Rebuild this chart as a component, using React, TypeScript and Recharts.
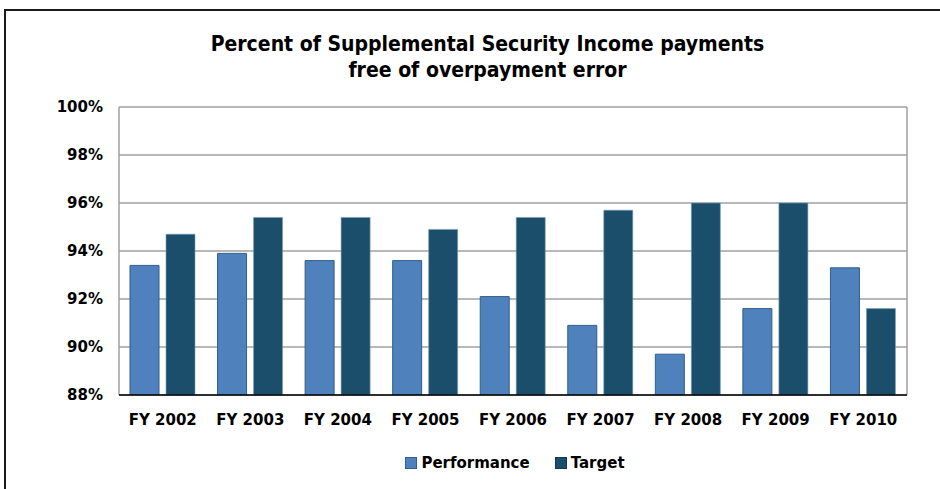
import React from 'react';
import { BarChart, Bar, XAxis, YAxis, CartesianGrid, Legend } from 'recharts';

const years = ['FY 2002', 'FY 2003', 'FY 2004', 'FY 2005', 'FY 2006', 'FY 2007', 'FY 2008', 'FY 2009', 'FY 2010'];
const performance = [93.4, 93.9, 93.6, 93.6, 92.1, 90.9, 89.7, 91.6, 93.3];
const target = [94.7, 95.4, 95.4, 94.9, 95.4, 95.7, 96.0, 96.0, 91.6];
const yTicks = [88, 90, 92, 94, 96, 98, 100];

const PERF_COLOR = '#4f81bd';
const TARGET_COLOR = '#1a4e6b';
const FONT = '"DejaVu Sans", sans-serif';

const rows = years.map((name, i) => ({
  name,
  Performance: performance[i],
  Target: target[i],
}));

const legendItems = [
  { label: 'Performance', fill: PERF_COLOR, stroke: '#2f5f8c' },
  { label: 'Target', fill: TARGET_COLOR, stroke: '#103a52' },
];

const renderLegend = () => (
  <div style={{ display: 'flex', justifyContent: 'center', fontFamily: FONT, fontWeight: 'bold', fontSize: 15, color: '#000' }}>
    {legendItems.map((it, i) => (
      <div key={it.label} style={{ display: 'flex', alignItems: 'center', marginLeft: i ? 25 : 0 }}>
        <div style={{ width: 10, height: 10, background: it.fill, border: `1px solid ${it.stroke}`, marginRight: 4 }} />
        <span>{it.label}</span>
      </div>
    ))}
  </div>
);

export default function App() {
  return (
    <div style={{ position: 'absolute', left: 0, top: 0, width: 940, height: 489, overflow: 'hidden', background: '#fff' }}>
      {/* outer frame */}
      <div style={{ position: 'absolute', left: 4, top: 9, width: 980, height: 520, border: '2px solid #1a1a1a', boxSizing: 'border-box' }} />
      <div
        style={{
          position: 'absolute',
          left: 0,
          top: 31,
          width: 975,
          textAlign: 'center',
          fontFamily: '"DejaVu Sans Condensed", "DejaVu Sans", sans-serif',
          fontWeight: 'bold',
          fontSize: 21,
          lineHeight: '26px',
          color: '#000',
        }}
      >
        Percent of Supplemental Security Income payments
        <br />
        free of overpayment error
      </div>
      <div style={{ position: 'absolute', left: 0, top: 0 }}>
        <BarChart
          width={940}
          height={489}
          data={rows}
          margin={{ top: 107, right: 33, bottom: 64, left: 0 }}
          barCategoryGap={11}
          barGap={7}
        >
          <CartesianGrid stroke="#a0a0a0" strokeWidth={1.5} verticalPoints={[119, 907]} />
          <YAxis
            width={119}
            domain={[88, 100]}
            ticks={yTicks}
            tickFormatter={(v: number) => `${v}%`}
            axisLine={false}
            tickLine={false}
            tickSize={0}
            tickMargin={16}
            tick={{ fill: '#000', fontFamily: FONT, fontWeight: 'bold', fontSize: 15 }}
            allowDataOverflow
          />
          <XAxis
            dataKey="name"
            height={30}
            axisLine={{ stroke: '#000', strokeWidth: 1.5 }}
            tickLine={false}
            tickSize={0}
            tickMargin={19}
            tick={{ fill: '#000', fontFamily: FONT, fontWeight: 'bold', fontSize: 15 }}
            interval={0}
          />
          <Legend verticalAlign="middle" align="center" layout="horizontal" content={renderLegend} wrapperStyle={{ top: 454, left: 75, width: 880 }} />
          <Bar dataKey="Performance" fill={PERF_COLOR} stroke="#2f5f8c" strokeWidth={1} isAnimationActive={false} />
          <Bar dataKey="Target" fill={TARGET_COLOR} stroke="#7a9db5" strokeWidth={0.6} isAnimationActive={false} />
        </BarChart>
      </div>
    </div>
  );
}
